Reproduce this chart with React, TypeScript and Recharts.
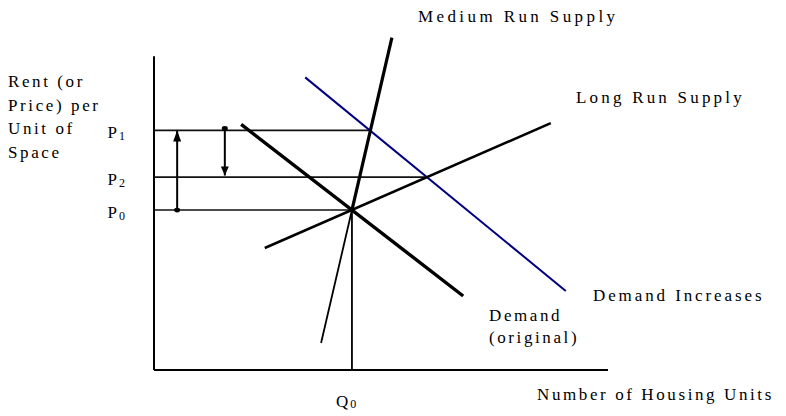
import { ComposedChart, Line, XAxis, YAxis, ReferenceLine } from 'recharts';

// price levels on the vertical axis
const priceNames = ['P0', 'P2', 'P1'];
const priceValues = [51.0, 61.5, 76.4];
// where each horizontal price line stops (x of the crossing)
const priceLineEnds = [43.6, 60.2, 47.6];

const quantityNames = ['Q0'];
const quantityValues = [43.6];

// curves, as end points in (quantity, price) units
const demandOriginal = [{ x: 19.2, y: 78.3 }, { x: 68.1, y: 23.6 }];
const demandIncreased = [{ x: 33.3, y: 93.3 }, { x: 90.7, y: 25.2 }];
const longRunSupply = [{ x: 24.4, y: 38.9 }, { x: 87.4, y: 78.7 }];
const mediumRunLower = [{ x: 36.8, y: 8.6 }, { x: 43.6, y: 51.0 }];
const mediumRunUpper = [{ x: 43.6, y: 51.0 }, { x: 52.4, y: 106.0 }];

// the two arrows between price levels
const riseArrow = [{ x: 5.1, y: 51.0 }, { x: 5.1, y: 76.4 }];
const fallArrow = [{ x: 15.6, y: 77.0 }, { x: 15.6, y: 62.0 }];

const FONT = "'Liberation Serif', 'Times New Roman', serif";

function subLabel(name: string) {
  return [name.slice(0, 1), name.slice(1)];
}

function PriceTick(props: any) {
  const { x, y, payload } = props;
  const i = priceValues.indexOf(payload.value);
  const [main, sub] = subLabel(priceNames[i] ?? '');
  return (
    <text x={x} y={y} dx={-21} dy={8} textAnchor="end" fontFamily={FONT} fontSize={17} fill="#000">
      {main}
      <tspan fontSize={12} dy={2} dx={2}>{sub}</tspan>
    </text>
  );
}

function QuantityTick(props: any) {
  const { x, y, payload } = props;
  const i = quantityValues.indexOf(payload.value);
  const [main, sub] = subLabel(quantityNames[i] ?? '');
  return (
    <text x={x} y={y} dx={-16} dy={29} textAnchor="start" fontFamily={FONT} fontSize={17} fill="#000">
      {main}
      <tspan fontSize={12} dy={1} dx={2}>{sub}</tspan>
    </text>
  );
}

function arrowDot(pointsUp: boolean) {
  return (props: any) => {
    const { cx, cy, index } = props;
    if (index === 0) {
      return <ellipse key={`d${index}`} cx={cx} cy={cy} rx={3} ry={2.4} fill="#000" />;
    }
    const b = pointsUp ? cy + 11 : cy - 9;
    return (
      <polygon
        key={`a${index}`}
        points={`${cx},${cy} ${cx - 4},${b} ${cx + 4},${b}`}
        fill="#000"
      />
    );
  };
}

const label = (left: number, top: number, text: string, spacing = 2.6, lh = 20) => (
  <div
    style={{
      position: 'absolute',
      left,
      top,
      fontFamily: FONT,
      fontSize: 17,
      lineHeight: `${lh}px`,
      letterSpacing: spacing,
      color: '#000',
      whiteSpace: 'pre',
    }}
  >
    {text}
  </div>
);

export default function App() {
  return (
    <div style={{ position: 'absolute', left: 0, top: 0, width: 786, height: 416, background: '#fff' }}>
      <ComposedChart width={786} height={416} margin={{ top: 25, right: 178, bottom: 16, left: 94 }}>
        <XAxis
          type="number"
          dataKey="x"
          domain={[0, 100]}
          ticks={quantityValues}
          tick={<QuantityTick />}
          tickLine={false}
          axisLine={{ stroke: '#000', strokeWidth: 2 }}
          height={30}
          allowDataOverflow
        />
        <YAxis
          type="number"
          dataKey="y"
          domain={[0, 110]}
          ticks={priceValues}
          tick={<PriceTick />}
          tickLine={false}
          axisLine={false}
          width={60}
          allowDataOverflow
        />
        <ReferenceLine segment={[{ x: 0, y: 0 }, { x: 0, y: 100 }]} stroke="#000" strokeWidth={2} />
        {priceValues.map((p, i) => (
          <ReferenceLine
            key={priceNames[i]}
            segment={[{ x: 0, y: p }, { x: priceLineEnds[i], y: p }]}
            stroke="#111"
            strokeWidth={1.6}
          />
        ))}
        <ReferenceLine
          segment={[{ x: quantityValues[0], y: 0 }, { x: quantityValues[0], y: priceValues[0] }]}
          stroke="#000"
          strokeWidth={1.8}
        />
        <Line data={demandIncreased} dataKey="y" stroke="#000080" strokeWidth={2} dot={false} activeDot={false} isAnimationActive={false} />
        <Line data={longRunSupply} dataKey="y" stroke="#000" strokeWidth={2.5} dot={false} activeDot={false} isAnimationActive={false} />
        <Line data={demandOriginal} dataKey="y" stroke="#000" strokeWidth={3.4} dot={false} activeDot={false} isAnimationActive={false} />
        <Line data={mediumRunLower} dataKey="y" stroke="#000" strokeWidth={1.8} dot={false} activeDot={false} isAnimationActive={false} />
        <Line data={mediumRunUpper} dataKey="y" stroke="#000" strokeWidth={3.2} dot={false} activeDot={false} isAnimationActive={false} />
        <Line data={riseArrow} dataKey="y" stroke="#000" strokeWidth={2} dot={arrowDot(true)} activeDot={false} isAnimationActive={false} />
        <Line data={fallArrow} dataKey="y" stroke="#000" strokeWidth={2} dot={arrowDot(false)} activeDot={false} isAnimationActive={false} />
      </ComposedChart>
      {label(8, 70, 'Rent (or\nPrice) per\nUnit of\nSpace', 2.6, 23.7)}
      {label(418, 7, 'Medium Run Supply', 3.4)}
      {label(576, 88, 'Long Run Supply', 3.2)}
      {label(593, 286, 'Demand Increases', 2.9)}
      {label(489, 305, 'Demand\n(original)', 2.6, 22)}
      {label(537, 385, 'Number of Housing Units')}
    </div>
  );
}
